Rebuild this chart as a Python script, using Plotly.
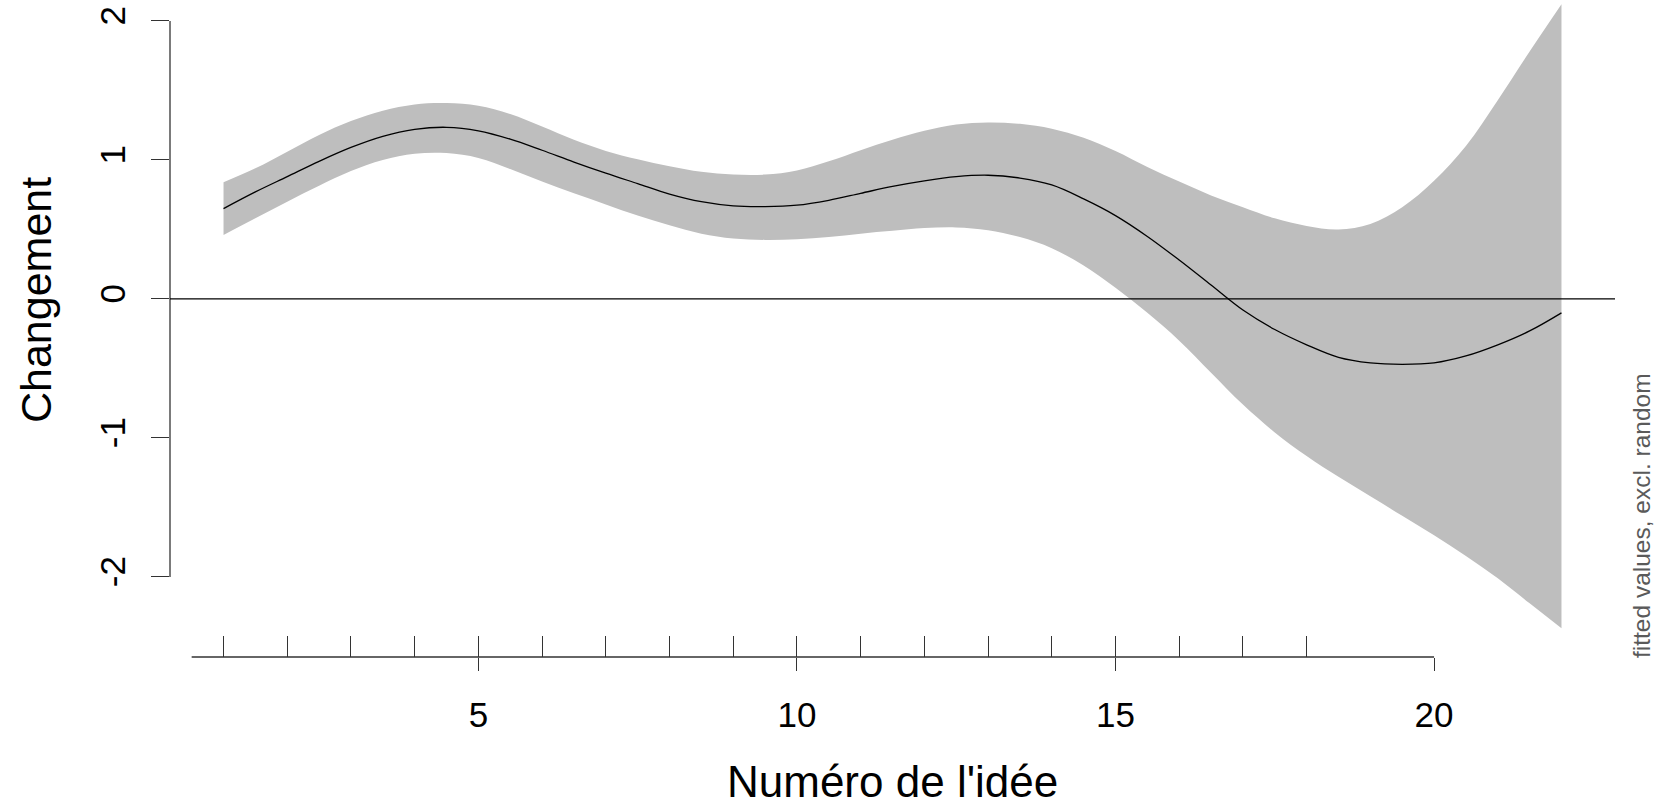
import plotly.graph_objects as go

# Fitted smooth of "Changement" over idea number, with its confidence band
idee = [1.0, 1.5, 2.0, 2.5, 3.0, 3.5, 4.0, 4.5, 5.0, 5.5, 6.0, 6.5, 7.0, 7.5,
        8.0, 8.5, 9.0, 9.5, 10.0, 10.5, 11.0, 11.5, 12.0, 12.5, 13.0, 13.5,
        14.0, 14.5, 15.0, 15.5, 16.0, 16.5, 17.0, 17.5, 18.0, 18.5, 19.0,
        19.5, 20.0, 20.5, 21.0, 21.5, 22.0]

fit = [0.65, 0.77, 0.88, 0.99, 1.09, 1.17, 1.22, 1.235, 1.21, 1.15, 1.07,
       0.985, 0.905, 0.83, 0.755, 0.70, 0.67, 0.665, 0.675, 0.71, 0.76, 0.81,
       0.85, 0.88, 0.89, 0.87, 0.82, 0.72, 0.60, 0.45, 0.28, 0.10, -0.08,
       -0.22, -0.33, -0.42, -0.46, -0.47, -0.46, -0.41, -0.33, -0.23, -0.10]

upper = [0.84, 0.94, 1.06, 1.18, 1.28, 1.355, 1.40, 1.41, 1.39, 1.33, 1.24,
         1.145, 1.065, 1.005, 0.955, 0.915, 0.895, 0.895, 0.925, 0.99, 1.07,
         1.145, 1.21, 1.255, 1.27, 1.26, 1.225, 1.16, 1.065, 0.95, 0.845,
         0.745, 0.66, 0.58, 0.525, 0.50, 0.54, 0.66, 0.85, 1.10, 1.43, 1.78,
         2.12]

lower = [0.46, 0.58, 0.70, 0.815, 0.92, 1.00, 1.045, 1.05, 1.015, 0.935,
         0.845, 0.76, 0.68, 0.60, 0.53, 0.47, 0.435, 0.425, 0.43, 0.445, 0.47,
         0.49, 0.51, 0.515, 0.495, 0.445, 0.365, 0.24, 0.08, -0.10, -0.30,
         -0.53, -0.76, -0.96, -1.13, -1.28, -1.42, -1.56, -1.70, -1.85, -2.01,
         -2.19, -2.37]

# Observed idea numbers (rug marks)
rug_positions = list(range(1, 19))

x_ticks = [5, 10, 15, 20]
y_ticks = [-2, -1, 0, 1, 2]
y_ticktext = ["-2", "-1", "0", "1", "2"]

x_title = "Numéro de l'idée"
y_title = "Changement"
side_note = "fitted values, excl. random"

FONT = "Liberation Sans, Arial, sans-serif"
AXIS_COL = "#333333"
BAND_COL = "#BEBEBE"

fig = go.Figure()

fig.add_trace(go.Scatter(
    x=idee, y=upper, mode="lines", line=dict(width=0, shape="spline"),
    hoverinfo="skip", showlegend=False))
fig.add_trace(go.Scatter(
    x=idee, y=lower, mode="lines", line=dict(width=0, shape="spline"),
    fill="tonexty", fillcolor=BAND_COL, hoverinfo="skip", showlegend=False))
fig.add_trace(go.Scatter(
    x=idee, y=fit, mode="lines",
    line=dict(color="black", width=1.3, shape="spline"),
    showlegend=False))
# invisible carrier so the rug axis is laid out
fig.add_trace(go.Scatter(
    x=rug_positions, y=[0] * len(rug_positions), xaxis="x2", mode="markers",
    marker=dict(opacity=0), hoverinfo="skip", showlegend=False))

x_range = [0.16, 22.84]

fig.update_layout(
    width=1661, height=808,
    margin=dict(l=170, r=46, t=0, b=151),
    paper_bgcolor="white", plot_bgcolor="white",
    font=dict(family=FONT, color="black"),
    xaxis=dict(
        range=x_range, tickmode="array", tickvals=x_ticks,
        ticks="outside", ticklen=13, tickwidth=1.3, tickcolor=AXIS_COL,
        showline=False, showgrid=False, zeroline=False,
        tickfont=dict(size=35, family=FONT, color="black"),
        ticklabelstandoff=14,
    ),
    xaxis2=dict(
        range=x_range, overlaying="x", anchor="y", side="bottom",
        tickmode="array", tickvals=rug_positions,
        ticks="inside", ticklen=21, tickwidth=1.3, tickcolor=AXIS_COL,
        showticklabels=False, showline=False, showgrid=False, zeroline=False,
    ),
    yaxis=dict(
        range=[-2.576, 2.151], tickmode="array", tickvals=y_ticks,
        ticktext=y_ticktext, tickangle=-90,
        ticks="outside", ticklen=18, tickwidth=1.3, tickcolor=AXIS_COL,
        showline=False, showgrid=False, zeroline=False,
        tickfont=dict(size=35, family=FONT, color="black"),
        ticklabelstandoff=12,
    ),
    shapes=[
        # y axis line spanning the labelled ticks
        dict(type="line", xref="paper", yref="y", x0=0, x1=0,
             y0=y_ticks[0], y1=y_ticks[-1],
             line=dict(color=AXIS_COL, width=1.3)),
        # x axis line
        dict(type="line", xref="x", yref="paper", x0=0.5, x1=x_ticks[-1],
             y0=0, y1=0, line=dict(color=AXIS_COL, width=1.3)),
        # reference line at zero
        dict(type="line", xref="paper", yref="y", x0=0, x1=1, y0=0, y1=0,
             line=dict(color="black", width=1.2)),
    ],
    annotations=[
        dict(text=x_title, xref="paper", yref="paper", x=0.5, y=-0.2298,
             xanchor="center", yanchor="bottom", showarrow=False,
             font=dict(size=44, family=FONT, color="black")),
        dict(text=y_title, xref="paper", yref="paper", x=-0.0927, y=0.5434,
             xanchor="center", yanchor="middle", textangle=-90,
             showarrow=False, font=dict(size=43, family=FONT, color="black")),
        dict(text=side_note, xref="paper", yref="paper", x=1.018, y=0.2146,
             xanchor="center", yanchor="middle", textangle=-90,
             showarrow=False, font=dict(size=24.5, family=FONT, color="#5a5a5a")),
    ],
)

fig.write_html("out.html")
